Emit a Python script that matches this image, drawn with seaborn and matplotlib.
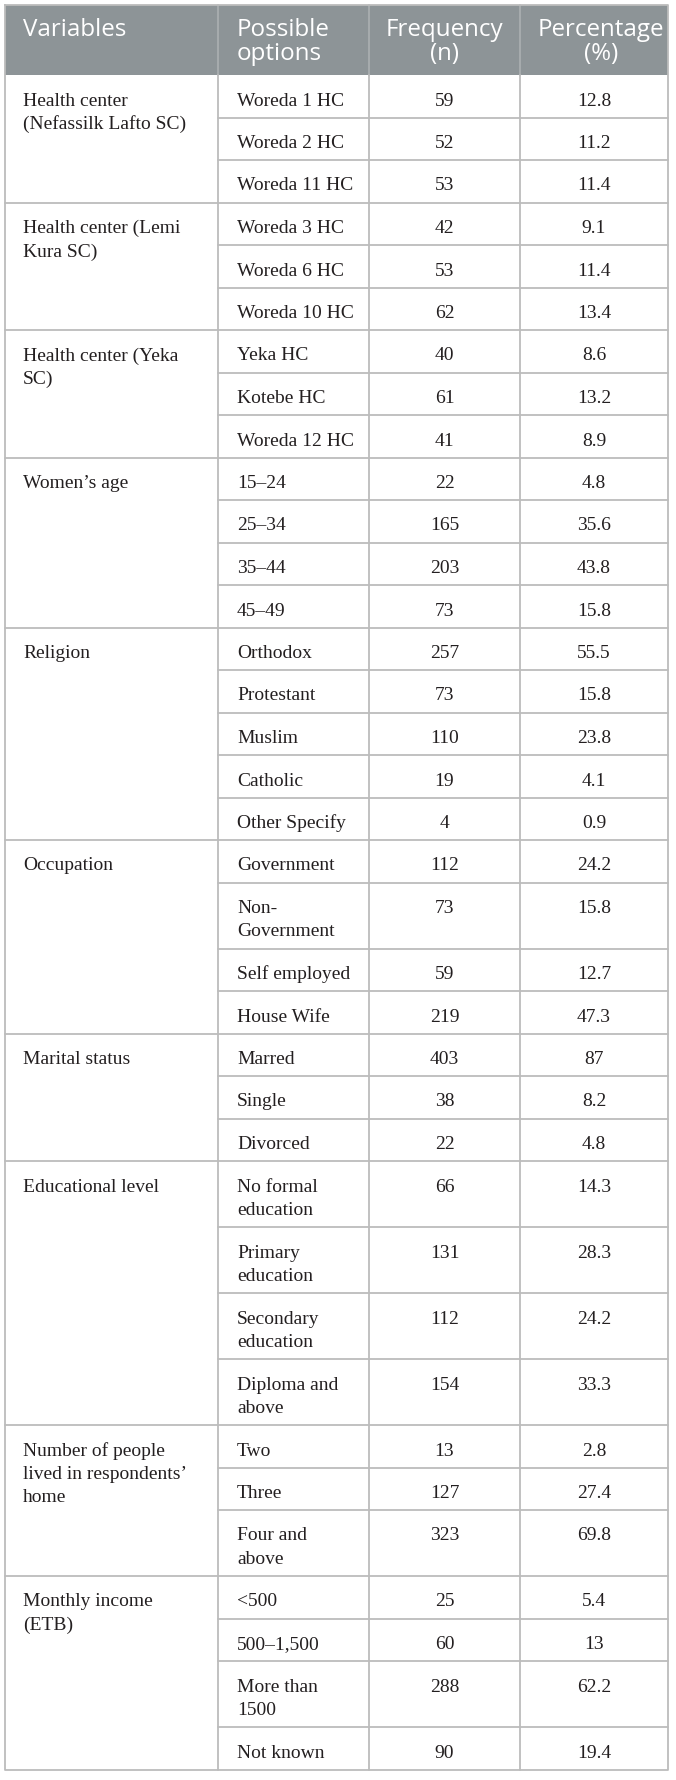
import matplotlib
matplotlib.use("Agg")
import matplotlib.pyplot as plt
import seaborn as sns

# ---------------- data ----------------
headers = ["Variables", "Possible\noptions", "Frequency\n(n)", "Percentage\n(%)"]

variables = [
    "Health center\n(Nefassilk Lafto SC)",
    "Health center (Lemi\nKura SC)",
    "Health center (Yeka\nSC)",
    "Women\u2019s age",
    "Religion",
    "Occupation",
    "Marital status",
    "Educational level",
    "Number of people\nlived in respondents\u2019\nhome",
    "Monthly income\n(ETB)",
]
group_sizes = [3, 3, 3, 4, 5, 4, 3, 4, 3, 4]

options = [
    "Woreda 1 HC", "Woreda 2 HC", "Woreda 11 HC",
    "Woreda 3 HC", "Woreda 6 HC", "Woreda 10 HC",
    "Yeka HC", "Kotebe HC", "Woreda 12 HC",
    "15\u201324", "25\u201334", "35\u201344", "45\u201349",
    "Orthodox", "Protestant", "Muslim", "Catholic", "Other Specify",
    "Government", "Non-\nGovernment", "Self employed", "House Wife",
    "Marred", "Single", "Divorced",
    "No formal\neducation", "Primary\neducation", "Secondary\neducation", "Diploma and\nabove",
    "Two", "Three", "Four and\nabove",
    "<500", "500\u20131,500", "More than\n1500", "Not known",
]
frequency = [59, 52, 53, 42, 53, 62, 40, 61, 41,
             22, 165, 203, 73,
             257, 73, 110, 19, 4,
             112, 73, 59, 219,
             403, 38, 22,
             66, 131, 112, 154,
             13, 127, 323,
             25, 60, 288, 90]
percentage = [12.8, 11.2, 11.4, 9.1, 11.4, 13.4, 8.6, 13.2, 8.9,
              4.8, 35.6, 43.8, 15.8,
              55.5, 15.8, 23.8, 4.1, 0.9,
              24.2, 15.8, 12.7, 47.3,
              87, 8.2, 4.8,
              14.3, 28.3, 24.2, 33.3,
              2.8, 27.4, 69.8,
              5.4, 13, 62.2, 19.4]

# ---------------- style ----------------
sns.set_theme(style="white")
SERIF = ["Liberation Serif", "DejaVu Serif"]
SANS = ["Open Sans", "DejaVu Sans"]
plt.rcParams["font.family"] = SERIF

W, H = 676, 1780
fig = plt.figure(figsize=(W / 100, H / 100), dpi=100)
ax = fig.add_axes([0, 0, 1, 1])
ax.set_xlim(0, W)
ax.set_ylim(H, 0)
ax.axis("off")
renderer = fig.canvas.get_renderer()


def fit_size(sample, family, target_px, base=12.0):
    t = ax.text(0, 0, sample, fontsize=base, family=family)
    w = t.get_window_extent(renderer=renderer).width
    t.remove()
    return base * target_px / w


# layout
x_left, x_right = 5, 668
col_x = [x_left, 218, 369, 520, x_right]
y_top, y_head = 5, 75
row_h1 = 42.5
line_step = 23.5
base_off = 30.5

header_bg = "#8d9497"
header_line = "#a9aeb0"
grid_color = "#bcbcbc"
text_color = "#231f20"
lw = 1.3

body_fs = fit_size("Government", SERIF, 97)
head_fs = fit_size("Frequency", SANS, 117)

# header
ax.add_patch(plt.Rectangle((x_left, y_top), x_right - x_left, y_head - y_top,
                           facecolor=header_bg, edgecolor="none", zorder=1))
for cx in col_x[1:-1]:
    ax.plot([cx, cx], [y_top, y_head], color=header_line, lw=lw, zorder=2)

head_x = [23, 237, (col_x[2] + col_x[3]) / 2, 601]
head_ha = ["left", "left", "center", "center"]
for htxt, hx, ha in zip(headers, head_x, head_ha):
    for k, line in enumerate(htxt.split("\n")):
        ax.text(hx, y_top + 31 + k * 24, line, ha=ha, va="baseline",
                fontsize=head_fs, color="white", family=SANS, zorder=3)

# body rows
row_heights = [row_h1 + line_step * (o.count("\n")) for o in options]
tops = []
y = y_head
for h in row_heights:
    tops.append(y)
    y += h
y_bottom = y


def draw_lines(x, y0, txt, ha):
    for k, line in enumerate(txt.split("\n")):
        ax.text(x, y0 + base_off + k * line_step, line, ha=ha, va="baseline",
                fontsize=body_fs, color=text_color, family=SERIF, zorder=3)


idx = 0
for var, n in zip(variables, group_sizes):
    g_top = tops[idx]
    draw_lines(23, g_top, var, "left")
    for j in range(n):
        r = idx + j
        t = tops[r]
        draw_lines(237, t, options[r], "left")
        draw_lines((col_x[2] + col_x[3]) / 2, t, str(frequency[r]), "center")
        draw_lines((col_x[3] + col_x[4]) / 2, t, "{:g}".format(percentage[r]), "center")
        if j > 0:
            ax.plot([col_x[1], x_right], [t, t], color=grid_color, lw=lw, zorder=2)
    if idx > 0:
        ax.plot([x_left, x_right], [g_top, g_top], color=grid_color, lw=lw, zorder=2)
    idx += n

# verticals and border
for cx in col_x[1:-1]:
    ax.plot([cx, cx], [y_head, y_bottom], color=grid_color, lw=lw, zorder=2)
ax.plot([x_left, x_right, x_right, x_left, x_left],
        [y_top, y_top, y_bottom, y_bottom, y_top], color=grid_color, lw=lw, zorder=2)

fig.savefig("out.png", dpi=100)
